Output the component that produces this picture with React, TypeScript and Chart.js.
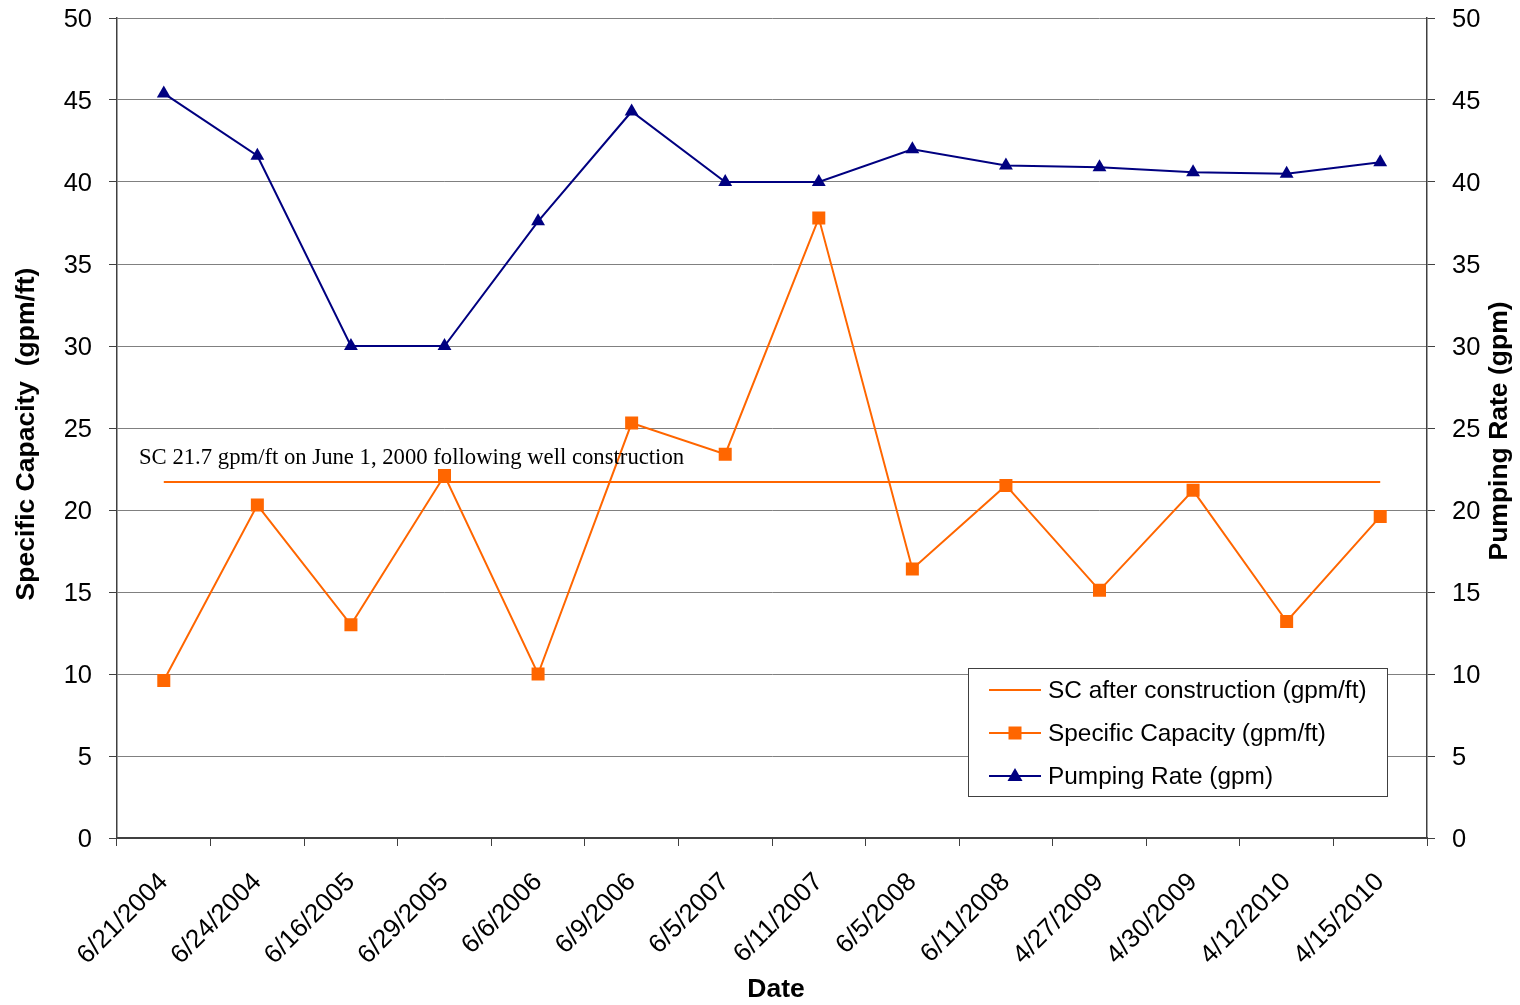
import React, { useEffect, useRef } from "react";
import { Chart, registerables } from "chart.js";

Chart.register(...registerables);

const categories = [
  "6/21/2004", "6/24/2004", "6/16/2005", "6/29/2005", "6/6/2006", "6/9/2006", "6/5/2007",
  "6/11/2007", "6/5/2008", "6/11/2008", "4/27/2009", "4/30/2009", "4/12/2010", "4/15/2010",
];
const specificCapacity = [9.6, 20.3, 13.0, 22.1, 10.0, 25.3, 23.4, 37.8, 16.4, 21.5, 15.1, 21.2, 13.2, 19.6];
const pumpingRate = [45.4, 41.6, 30.0, 30.0, 37.6, 44.3, 40.0, 40.0, 42.0, 41.0, 40.9, 40.6, 40.5, 41.2];
const scAfterConstruction = [21.7, 21.7, 21.7, 21.7, 21.7, 21.7, 21.7, 21.7, 21.7, 21.7, 21.7, 21.7, 21.7, 21.7];
const annotationText = "SC 21.7 gpm/ft on June 1, 2000 following well construction";
const leftTitle = "Specific Capacity  (gpm/ft)";
const rightTitle = "Pumping Rate (gpm)";
const xTitle = "Date";
const legendLabels = ["SC after construction (gpm/ft)", "Specific Capacity (gpm/ft)", "Pumping Rate (gpm)"];

const ORANGE = "#FF6600";
const NAVY = "#000080";
const SANS = "'Liberation Sans', Arial, sans-serif";
const SERIF = "'Liberation Serif', 'Times New Roman', serif";

const overlayPlugin = {
  id: "overlay",
  afterDraw(chart: any) {
    const ctx = chart.ctx;
    const area = chart.chartArea;
    const yScale = chart.scales.y;
    ctx.save();
    // axis titles
    ctx.fillStyle = "#000";
    ctx.font = `bold 26.5px ${SANS}`;
    ctx.textAlign = "center";
    ctx.textBaseline = "middle";
    ctx.save();
    ctx.translate(27, 434);
    ctx.rotate(-Math.PI / 2);
    ctx.fillText(leftTitle, 0, 0);
    ctx.restore();
    ctx.save();
    ctx.translate(1500, 431);
    ctx.rotate(-Math.PI / 2);
    ctx.fillText(rightTitle, 0, 0);
    ctx.restore();
    ctx.fillText(xTitle, (area.left + area.right) / 2 + 4, 990);

    // annotation
    const yLine = yScale.getPixelForValue(scAfterConstruction[0]);
    ctx.font = `22.7px ${SERIF}`;
    ctx.textAlign = "left";
    ctx.textBaseline = "alphabetic";
    ctx.fillText(annotationText, area.left + 22, yLine - 18);

    // legend
    const lw = 419, lh = 128;
    const lx = area.right - 40 - lw;
    const ly = area.bottom - 42 - lh;
    ctx.fillStyle = "#fff";
    ctx.fillRect(lx, ly, lw, lh);
    ctx.strokeStyle = "#404040";
    ctx.lineWidth = 1;
    ctx.strokeRect(Math.round(lx) + 0.5, Math.round(ly) + 0.5, lw, lh);
    const rows = [
      { color: ORANGE, marker: null },
      { color: ORANGE, marker: "rect" },
      { color: NAVY, marker: "triangle" },
    ];
    rows.forEach((r, i) => {
      const cy = ly + 22 + i * 43;
      ctx.strokeStyle = r.color;
      ctx.lineWidth = 2;
      ctx.beginPath();
      ctx.moveTo(lx + 21, cy);
      ctx.lineTo(lx + 73, cy);
      ctx.stroke();
      ctx.fillStyle = r.color;
      if (r.marker === "rect") {
        ctx.fillRect(lx + 47 - 6.5, cy - 6.5, 13, 13);
      } else if (r.marker === "triangle") {
        ctx.beginPath();
        ctx.moveTo(lx + 47, cy - 8);
        ctx.lineTo(lx + 47 + 7.5, cy + 5);
        ctx.lineTo(lx + 47 - 7.5, cy + 5);
        ctx.closePath();
        ctx.fill();
      }
      ctx.fillStyle = "#000";
      ctx.font = `24.4px ${SANS}`;
      ctx.textAlign = "left";
      ctx.textBaseline = "middle";
      ctx.fillText(legendLabels[i], lx + 80, cy + 1);
    });
    ctx.restore();
  },
};

export default function App() {
  const ref = useRef<HTMLCanvasElement | null>(null);
  useEffect(() => {
    if (!ref.current) return;
    const chart = new Chart(ref.current, {
      type: "line",
      data: {
        labels: categories,
        datasets: [
          {
            label: legendLabels[1],
            data: specificCapacity,
            borderColor: ORANGE,
            backgroundColor: ORANGE,
            borderWidth: 2,
            pointStyle: "rect",
            pointRadius: 9.2,
            pointBorderWidth: 0,
            tension: 0,
            yAxisID: "y",
          },
          {
            label: legendLabels[2],
            data: pumpingRate,
            borderColor: NAVY,
            backgroundColor: NAVY,
            borderWidth: 2,
            pointStyle: "triangle",
            pointRadius: 8,
            pointBorderWidth: 0,
            tension: 0,
            yAxisID: "y2",
          },
          {
            label: legendLabels[0],
            data: scAfterConstruction,
            borderColor: ORANGE,
            backgroundColor: ORANGE,
            borderWidth: 2,
            pointRadius: 0,
            tension: 0,
            yAxisID: "y",
          },
        ],
      },
      options: {
        animation: false,
        responsive: false,
        devicePixelRatio: 1,
        layout: { padding: { top: 18, left: 0, right: 0, bottom: 0 } },
        plugins: { legend: { display: false }, tooltip: { enabled: false } },
        scales: {
          x: {
            type: "category",
            offset: true,
            grid: { offset: true, drawOnChartArea: false, drawTicks: true, tickLength: 8, color: "#404040" },
            border: { color: "#404040", width: 2 },
            ticks: { minRotation: 45, maxRotation: 45, autoSkip: false, color: "#000", padding: 21, font: { family: SANS, size: 26 } },
            afterFit: (s: any) => { s.height = 167; s.paddingLeft = 0; s.paddingRight = 0; },
          },
          y: {
            position: "left",
            min: 0,
            max: 50,
            ticks: { stepSize: 5, color: "#000", padding: 17, labelOffset: 2, font: { family: SANS, size: 25.5 } },
            grid: { color: "#808080", tickColor: "#404040", tickLength: 8 },
            border: { color: "#404040", width: 1.5 },
            afterFit: (s: any) => { s.width = 117; s.paddingTop = 0; s.paddingBottom = 0; },
          },
          y2: {
            position: "right",
            min: 0,
            max: 50,
            ticks: { stepSize: 5, color: "#000", padding: 17, labelOffset: 2, font: { family: SANS, size: 25.5 } },
            grid: { drawOnChartArea: false, tickColor: "#404040", tickLength: 8 },
            border: { color: "#404040", width: 1.5 },
            afterFit: (s: any) => { s.width = 93; s.paddingTop = 0; s.paddingBottom = 0; },
          },
        },
      },
      plugins: [overlayPlugin],
    } as any);
    return () => chart.destroy();
  }, []);
  return (
    <div style={{ position: "absolute", left: 0, top: 0, width: 1520, height: 1005, background: "#fff" }}>
      <canvas ref={ref} width={1520} height={1005} />
    </div>
  );
}
